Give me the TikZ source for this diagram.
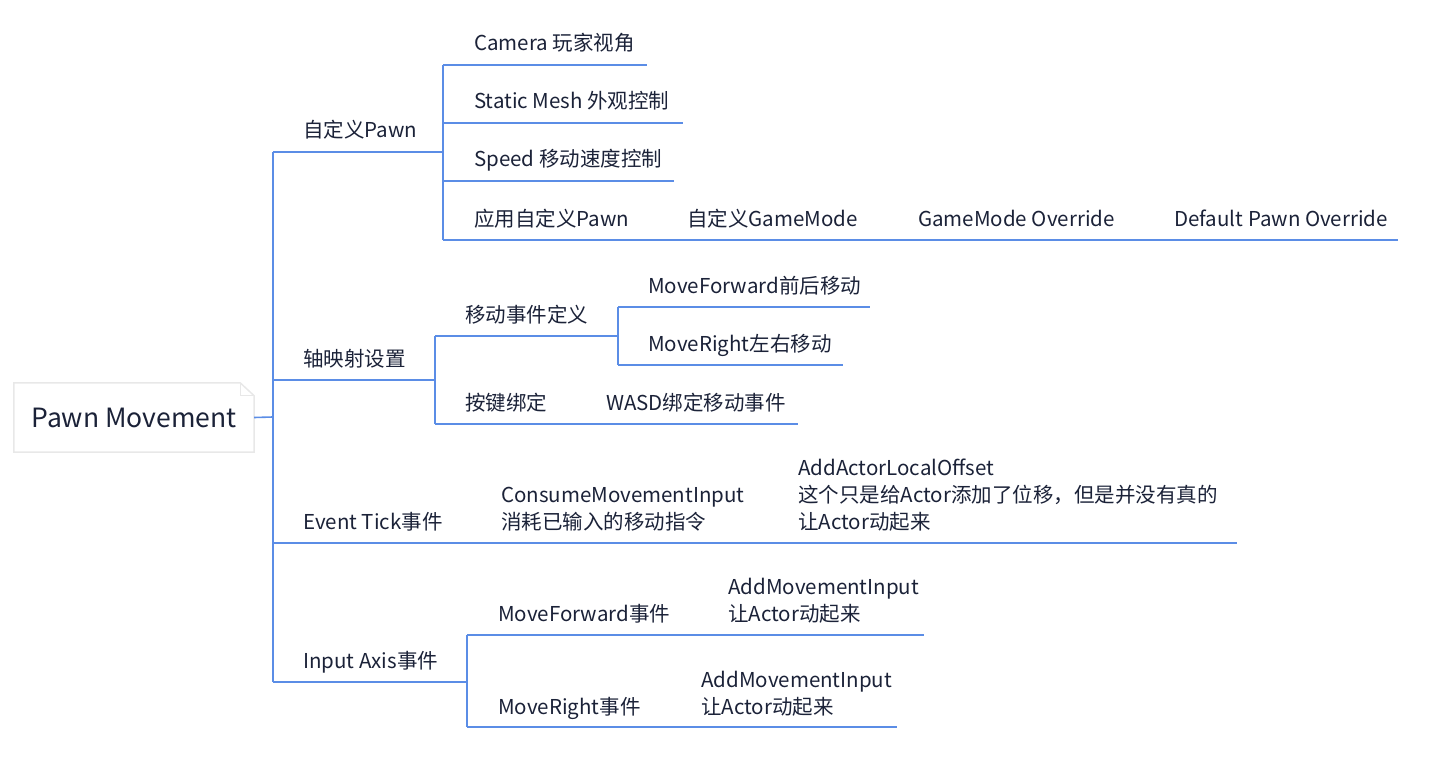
\documentclass[tikz,border=0pt]{standalone}
\usepackage{fontspec}
\setmainfont{Noto Sans CJK SC}
\definecolor{lc}{HTML}{5B8DE6}
\definecolor{tc}{HTML}{1B2238}
\definecolor{bc}{HTML}{E8E8E8}
\newcommand{\fs}{\fontsize{20.5}{27}\selectfont}
\begin{document}
\begin{tikzpicture}[x=1pt,y=-1pt,
  conn/.style={draw=lc, line width=1.6pt},
  topic/.style={anchor=base west, inner sep=0pt, font=\fs, text=tc, align=left}]
\useasboundingbox (0,0) rectangle (1450,762);
% root
\node[minimum width=240pt, minimum height=69pt, inner sep=0pt, font=\fontsize{26.5}{30}\selectfont, text=tc] (root) at (134,417.5) {Pawn Movement};
\draw[bc, line width=1.5pt] (root.north west) -- ([xshift=-14pt]root.north east) -- ([yshift=-13pt]root.north east) -- (root.south east) -- (root.south west) -- cycle;
\draw[bc, line width=1pt] ([xshift=-14pt]root.north east) -- ([xshift=-14pt,yshift=-13pt]root.north east) -- ([yshift=-13pt]root.north east);
% junction coordinates
\coordinate (J0) at (273,417);
\coordinate (A) at (443,152);
\coordinate (B) at (435,380);
\coordinate (B1) at (618,336);
\coordinate (C) at (273,543);
\coordinate (D) at (467,682);
% level 1
\node[topic] (n1) at (303,138) {自定义Pawn};
\node[topic] (n2) at (303,366) {轴映射设置};
\node[topic] (n3) at (303,529) {Event Tick事件};
\node[topic] (n4) at (303,668) {Input Axis事件};
% level 2 of n1
\node[topic] (a1) at (474,51) {Camera 玩家视角};
\node[topic] (a2) at (474,109) {Static Mesh 外观控制};
\node[topic] (a3) at (474,167) {Speed 移动速度控制};
\node[topic] (a4) at (474,226) {应用自定义Pawn};
\node[topic] (a5) at (687,226) {自定义GameMode};
\node[topic] (a6) at (918,226) {GameMode Override};
\node[topic] (a7) at (1174,226) {Default Pawn Override};
% n2
\node[topic] (b1) at (465,322) {移动事件定义};
\node[topic] (b11) at (648,293) {MoveForward前后移动};
\node[topic] (b12) at (648,351) {MoveRight左右移动};
\node[topic] (b2) at (465,410) {按键绑定};
\node[topic] (b21) at (606,410) {WASD绑定移动事件};
% n3
\node[topic] (c1) at (501,529) {ConsumeMovementInput\\消耗已输入的移动指令};
\node[topic] (c2) at (798,529) {AddActorLocalOffset\\这个只是给Actor添加了位移，但是并没有真的\\让Actor动起来};
% n4
\node[topic] (d1) at (498,621) {MoveForward事件};
\node[topic] (d11) at (728,621) {AddMovementInput\\让Actor动起来};
\node[topic] (d2) at (498,714) {MoveRight事件};
\node[topic] (d21) at (701,714) {AddMovementInput\\让Actor动起来};
% connectors
\draw[conn] (root.east) -- (J0);
\draw[conn] (273,152) -- (273,682);
\draw[conn] (273,152) -- (A);
\draw[conn] (273,380) -- (B);
\draw[conn] (C) -- (1237,543);
\draw[conn] (273,682) -- (D);
% n1 children
\draw[conn] (443,65) -- (443,240);
\draw[conn] (443,65) -- (647,65);
\draw[conn] (443,123) -- (683,123);
\draw[conn] (443,181) -- (674,181);
\draw[conn] (443,240) -- (1398,240);
% n2 children
\draw[conn] (435,336) -- (435,424);
\draw[conn] (435,336) -- (B1);
\draw[conn] (618,307) -- (618,365);
\draw[conn] (618,307) -- (870,307);
\draw[conn] (618,365) -- (843,365);
\draw[conn] (435,424) -- (798,424);
% n4 children
\draw[conn] (467,635) -- (467,727);
\draw[conn] (467,635) -- (924,635);
\draw[conn] (467,727) -- (897,727);
\end{tikzpicture}
\end{document}
